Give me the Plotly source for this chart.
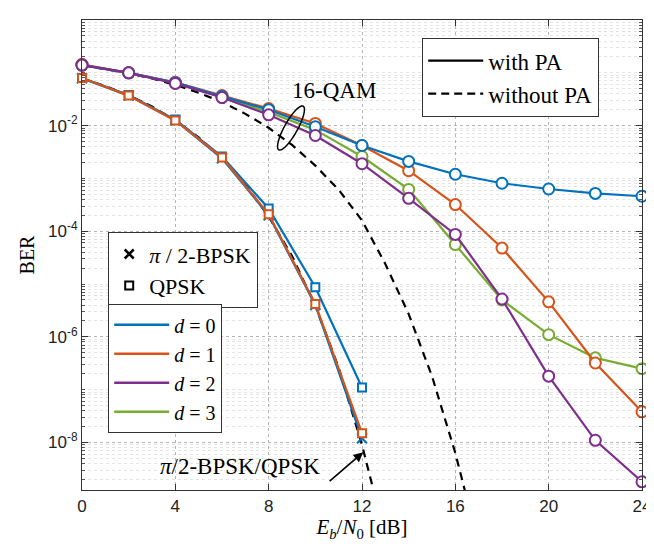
import numpy as np
import plotly.graph_objects as go

# ---------------- data ----------------
snr_db = [0, 2, 4, 6, 8, 10, 12, 14, 16, 18, 20, 22, 24]
qam_d0 = [1.4e-1, 1.0e-1, 6.5e-2, 3.6e-2, 2.0e-2, 9.5e-3, 4.2e-3, 2.1e-3, 1.2e-3, 8.1e-4, 6.3e-4, 5.2e-4, 4.6e-4]
qam_d1 = [1.45e-1, 1.0e-1, 6.6e-2, 3.7e-2, 2.1e-2, 1.1e-2, 4.2e-3, 1.4e-3, 3.2e-4, 4.8e-5, 4.6e-6, 3.2e-7, 3.8e-8]
qam_d2 = [1.4e-1, 1.0e-1, 6.3e-2, 3.4e-2, 1.6e-2, 6.5e-3, 1.9e-3, 4.2e-4, 8.7e-5, 5.2e-6, 1.8e-7, 1.1e-8, 1.8e-9]
qam_d3 = [1.4e-1, 1.0e-1, 6.4e-2, 3.5e-2, 1.8e-2, 8.3e-3, 2.6e-3, 6.2e-4, 5.6e-5, 5.0e-6, 1.1e-6, 4.0e-7, 2.5e-7]

psk_snr = [0, 2, 4, 6, 8, 10, 12]
qpsk_d0 = [8.0e-2, 3.8e-2, 1.3e-2, 2.6e-3, 2.7e-4, 8.7e-6, 1.1e-7]
qpsk_d1 = [8.0e-2, 3.7e-2, 1.25e-2, 2.5e-3, 2.1e-4, 4.2e-6, 1.5e-8]
bpsk_d0 = [7.9e-2, 3.7e-2, 1.25e-2, 2.4e-3, 2.0e-4, 4.0e-6, 1.2e-8]

psk_nopa_snr = [0, 1, 2, 3, 4, 5, 6, 7, 8, 9, 10, 11, 12, 12.5]
psk_nopa = [7.9e-2, 5.6e-2, 3.75e-2, 2.3e-2, 1.25e-2, 6.0e-3, 2.4e-3, 7.7e-4, 1.9e-4,
            3.4e-5, 3.9e-6, 2.6e-7, 9.0e-9, 1.2e-9]
qam_nopa_snr = [0, 1, 2, 3, 4, 5, 6, 7, 8, 9, 10, 11, 12, 13, 14, 15, 16, 16.5]
qam_nopa = [1.39e-1, 1.18e-1, 9.8e-2, 7.8e-2, 5.9e-2, 4.2e-2, 2.8e-2, 1.67e-2, 9.1e-3,
            4.3e-3, 1.75e-3, 6.1e-4, 1.6e-4, 2.4e-5, 2.7e-6, 1.8e-7, 6.3e-9, 8.5e-10]

x_ticks = [0, 4, 8, 12, 16, 20, 24]
y_ticks = [1, 1e-2, 1e-4, 1e-6, 1e-8]
y_ticktext = ["10<sup>0</sup>", "10<sup>-2</sup>", "10<sup>-4</sup>", "10<sup>-6</sup>", "10<sup>-8</sup>"]

blue, orange, purple, green = "#0072BD", "#D95319", "#7E2F8E", "#77AC30"
serif = "Liberation Serif"
sans = "Liberation Sans"

fig = go.Figure()

# theoretical (without PA) curves
fig.add_trace(go.Scatter(x=psk_nopa_snr, y=psk_nopa, mode="lines", showlegend=False,
                         line=dict(color="black", width=2.2, dash="8px,6px")))
fig.add_trace(go.Scatter(x=qam_nopa_snr, y=qam_nopa, mode="lines", showlegend=False,
                         line=dict(color="black", width=2.2, dash="8px,6px")))

def circ(x, y, c):
    fig.add_trace(go.Scatter(x=x, y=y, mode="lines+markers", showlegend=False, cliponaxis=False,
                             line=dict(color=c, width=2.2),
                             marker=dict(symbol="circle", size=11, color="white",
                                         line=dict(color=c, width=2))))

circ(snr_db, qam_d3, green)
circ(snr_db, qam_d1, orange)
circ(snr_db, qam_d0, blue)
circ(snr_db, qam_d2, purple)

# PSK with PA
fig.add_trace(go.Scatter(x=psk_snr, y=bpsk_d0, mode="lines+markers", showlegend=False, cliponaxis=False,
                         line=dict(color=blue, width=2.2),
                         marker=dict(symbol="x-thin", size=10, line=dict(color=blue, width=2))))
fig.add_trace(go.Scatter(x=psk_snr, y=qpsk_d0, mode="lines+markers", showlegend=False, cliponaxis=False,
                         line=dict(color=blue, width=2.2),
                         marker=dict(symbol="square", size=8, color="white",
                                     line=dict(color=blue, width=2))))
fig.add_trace(go.Scatter(x=psk_snr, y=qpsk_d1, mode="lines+markers", showlegend=False, cliponaxis=False,
                         line=dict(color=orange, width=2.2),
                         marker=dict(symbol="square", size=8, color="white",
                                     line=dict(color=orange, width=2))))

# ---------- legend entries ----------
fig.add_trace(go.Scatter(x=[None], y=[None], mode="lines", name="with PA", legend="legend",
                         line=dict(color="black", width=2.2)))
fig.add_trace(go.Scatter(x=[None], y=[None], mode="lines", name="without PA", legend="legend",
                         line=dict(color="black", width=2.2, dash="8px,5px")))
fig.add_trace(go.Scatter(x=[None], y=[None], mode="markers", name="<i>\u03c0</i> / 2-BPSK", legend="legend2",
                         marker=dict(symbol="x-thin", size=9, line=dict(color="black", width=2.5))))
fig.add_trace(go.Scatter(x=[None], y=[None], mode="markers", name="QPSK", legend="legend2",
                         marker=dict(symbol="square", size=8, color="white",
                                     line=dict(color="black", width=2))))
for lab, c in [("0", blue), ("1", orange), ("2", purple), ("3", green)]:
    fig.add_trace(go.Scatter(x=[None], y=[None], mode="lines", name="<i>d</i> = " + lab,
                             legend="legend3", line=dict(color=c, width=2.5)))

# ---------- geometry (page pixels; the page body adds an 8 px offset) ----------
OFF = 8
FW, FH = 654 - OFF, 544 - OFF
L, R, T, B = 82, 642, 20, 490          # plot area in page pixels
W, H = R - L, B - T

def pap(x, y):
    return (x - L) / W, (B - y) / H

cx, cy, a, b = 291, 128, 25, 6.5
u = np.array([24, 43]) / np.hypot(24, 43)   # major axis direction (y up)
v = np.array([-u[1], u[0]])
t = np.linspace(0, 2 * np.pi, 60)
px = (cx - L) + a * np.cos(t) * u[0] + b * np.sin(t) * v[0]
py = (B - cy) + a * np.cos(t) * u[1] + b * np.sin(t) * v[1]
path = "M " + " L ".join(f"{xx / W:.5f},{yy / H:.5f}" for xx, yy in zip(px, py)) + " Z"
fig.add_shape(type="path", path=path, xref="paper", yref="paper",
              line=dict(color="black", width=1.5))

qx, qy = pap(334, 90)
fig.add_annotation(x=qx, y=qy, xref="paper", yref="paper", xanchor="center", yanchor="middle",
                   text="16-QAM", showarrow=False, font=dict(family=serif, size=23, color="black"))
bx, by = pap(240, 466)
fig.add_annotation(x=bx, y=by, xref="paper", yref="paper", xanchor="center", yanchor="middle",
                   text="<i>\u03c0</i>/2-BPSK/QPSK", showarrow=False,
                   font=dict(family=serif, size=23, color="black"))
fig.add_annotation(x=12.05, y=np.log10(6.5e-9), xref="x", yref="y", text="",
                   showarrow=True, arrowhead=2, arrowsize=1.2, arrowwidth=1.6, arrowcolor="black",
                   ax=-35, ay=30)

def leg(x, y, size, iw):
    lx, ly = pap(x, y)
    return dict(x=lx, y=ly, bgcolor="white", bordercolor="#333", borderwidth=1.2,
                font=dict(family=serif, size=size, color="black"),
                xanchor="left", yanchor="top", tracegroupgap=0, itemwidth=iw)

fig.update_layout(
    width=FW, height=FH,
    margin=dict(l=L - OFF, r=654 - R, t=T - OFF, b=544 - B),
    paper_bgcolor="white", plot_bgcolor="white",
    legend=leg(422, 38, 23, 55),
    legend2=leg(108, 232, 22, 30),
    legend3=leg(108, 304, 20, 55),
    xaxis=dict(range=[0, 24], tickvals=x_ticks, ticks="inside", ticklen=6, tickcolor="#333",
               showline=True, linecolor="#333", linewidth=1.2, mirror="ticks", automargin=False,
               showgrid=True, gridcolor="#b5b5b5", griddash="dot", gridwidth=1, zeroline=False,
               tickfont=dict(family=sans, size=17, color="#222"),
               title=dict(text="<i>E</i><sub><i>b</i></sub>/<i>N</i><sub>0</sub> [dB]",
                          font=dict(family=serif, size=21, color="black"), standoff=2)),
    yaxis=dict(type="log", range=[-8.9, 0], tickvals=y_ticks, ticktext=y_ticktext,
               ticks="inside", ticklen=6, tickcolor="#333", automargin=False,
               showline=True, linecolor="#333", linewidth=1.2, mirror="ticks",
               showgrid=True, gridcolor="#b5b5b5", griddash="dot", gridwidth=1, zeroline=False,
               tickfont=dict(family=sans, size=17, color="#222"),
               minor=dict(tickvals=[m * 10.0 ** k for k in range(-9, 0) for m in range(1, 10)
                                    if not (m == 1 and k % 2 == 0)],
                          ticks="inside", ticklen=3, tickcolor="#555",
                          showgrid=True, gridcolor="#e4e4e4", griddash="dot", gridwidth=1),
               title=dict(text="BER", font=dict(family=serif, size=20, color="black"), standoff=8)),
)

fig.write_html("out.html")
